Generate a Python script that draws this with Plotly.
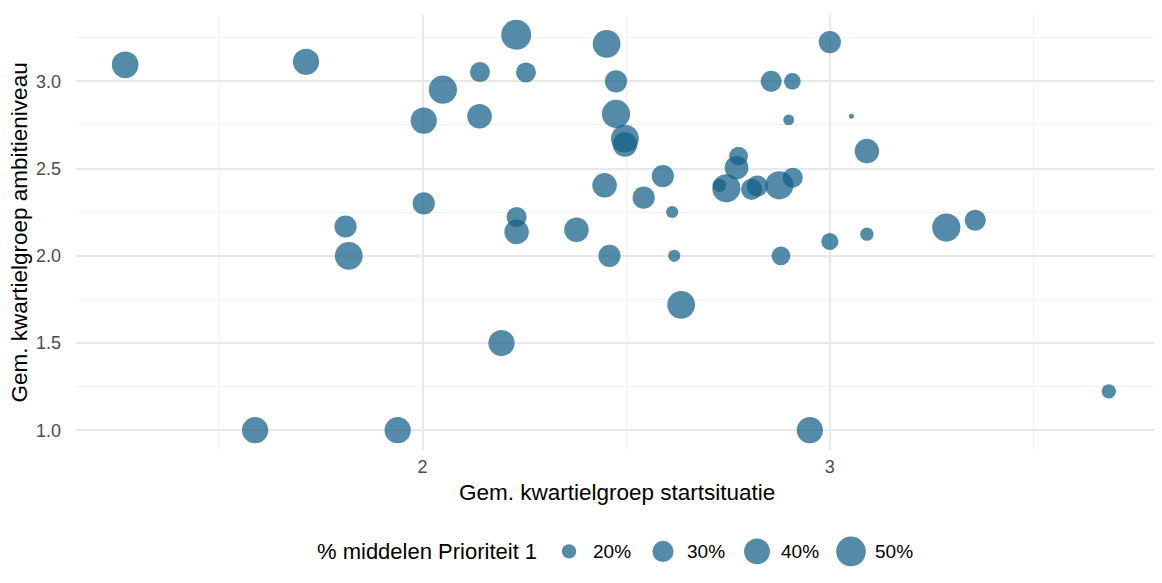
import numpy as np
import plotly.graph_objects as go

# gemiddelde kwartielgroep startsituatie (x), ambitieniveau (y), % middelen prioriteit 1
start = [1.270, 1.714, 2.230, 2.141, 2.254, 2.050, 2.003, 2.140, 2.003, 2.231,
         2.231, 1.811, 1.819, 2.378, 2.452, 2.475, 2.475, 2.497, 2.497, 2.447,
         2.590, 2.543, 2.613, 2.459, 2.618, 2.635, 2.856, 2.908, 3.000, 2.899,
         3.053, 3.091, 2.776, 2.771, 2.746, 2.729, 2.808, 2.822, 2.876, 2.909,
         2.880, 3.000, 3.091, 3.286, 3.357, 1.589, 1.939, 2.194, 2.951, 3.685]
ambitie = [3.095, 3.112, 3.267, 3.053, 3.051, 2.952, 2.775, 2.800, 2.300, 2.223,
           2.137, 2.168, 2.000, 2.149, 3.215, 3.000, 2.813, 2.672, 2.638, 2.404,
           2.457, 2.333, 2.251, 2.000, 2.000, 1.719, 3.000, 3.000, 3.225, 2.779,
           2.800, 2.600, 2.571, 2.505, 2.387, 2.404, 2.381, 2.400, 2.404, 2.448,
           2.000, 2.082, 2.124, 2.162, 2.204, 1.000, 1.000, 1.500, 1.000, 1.223]
prio1 = [42, 41, 51, 28, 28, 46, 41, 37, 32, 28,
         37, 32, 45, 37, 45, 32, 46, 45, 37, 37,
         32, 32, 18, 32, 18, 45, 30, 23, 32, 17,
         15, 37, 26, 35, 46, 19, 30, 30, 46, 28,
         26, 23.5, 19, 46, 30, 41, 41, 41, 41, 20]

legend_vals = [20, 30, 40, 50]
legend_labels = ["20%", "30%", "40%", "50%"]
x_ticks = [2, 3]
x_minor = [1.5, 2.5, 3.5]
y_ticks = [1.0, 1.5, 2.0, 2.5, 3.0]
y_minor = [1.25, 1.75, 2.25, 2.75, 3.25]

FONT = "Liberation Sans"
COL = "rgb(16,94,136)"
vmin, vmax = min(prio1), max(prio1)


# ggplot-achtige size schaal (oppervlak)
def diam(v, dmin=5, dmax=30):
    v = np.clip(np.asarray(v, dtype=float), vmin, vmax)
    return dmin + (dmax - dmin) * np.sqrt((v - vmin) / (vmax - vmin))


def expand(vals, f=0.05):
    lo, hi = min(vals), max(vals)
    d = (hi - lo) * f
    return [lo - d, hi + d]


# pagina heeft 8px body-marge, dus figuur iets kleiner en alles 8px terug
OFF = 8
W, H = 1162 - OFF, 583 - OFF
ML, MR, MT, MB = 76 - OFF, 4, 15 - OFF, 15
panel_bottom = 450 - OFF
ydom0 = (H - MB - panel_bottom) / (H - MT - MB)

fig = go.Figure()
fig.add_trace(go.Scatter(
    x=start, y=ambitie, mode="markers",
    marker=dict(size=diam(prio1), sizemode="diameter", color=COL, opacity=0.72,
                line=dict(width=0)),
    showlegend=False, hoverinfo="x+y+text", text=[f"{p}%" for p in prio1]))

# legenda onderaan (eigen as in paginapixels), sleutels op vaste afstand
key0, key_step = 569, 94
leg_x = [key0 + i * key_step for i in range(len(legend_vals))]
leg_lab_x = [k + 22 for k in leg_x]
fig.add_trace(go.Scatter(
    x=leg_x, y=[0.5] * 4, xaxis="x2", yaxis="y2", mode="markers",
    marker=dict(size=diam(legend_vals), sizemode="diameter", color=COL, opacity=0.72,
                line=dict(width=0)),
    showlegend=False, hoverinfo="skip"))

grid_major = "#e8e8e8"
grid_minor = "#f2f2f2"
tickfont = dict(size=18, color="#4d4d4d", family=FONT)

fig.update_layout(
    width=W, height=H,
    margin=dict(l=ML, r=MR, t=MT, b=MB),
    paper_bgcolor="white", plot_bgcolor="white",
    font=dict(family=FONT, color="#000000"),
    xaxis=dict(range=expand(start), domain=[0, 1], anchor="y",
               tickvals=x_ticks, ticktext=[str(v) for v in x_ticks],
               showgrid=True, gridcolor=grid_major, gridwidth=1.6,
               minor=dict(tickvals=x_minor, showgrid=True, gridcolor=grid_minor, gridwidth=1),
               zeroline=False, showline=False, ticks="", ticklabelstandoff=4,
               tickfont=tickfont),
    yaxis=dict(range=expand(ambitie), domain=[ydom0, 1], anchor="x",
               tickvals=y_ticks, ticktext=[f"{v:.1f}" for v in y_ticks],
               showgrid=True, gridcolor=grid_major, gridwidth=1.6,
               minor=dict(tickvals=y_minor, showgrid=True, gridcolor=grid_minor, gridwidth=1),
               zeroline=False, showline=False, ticks="", ticklabelstandoff=14,
               tickfont=tickfont),
    xaxis2=dict(range=[OFF + ML, OFF + W - MR], domain=[0, 1], anchor="y2", visible=False,
                fixedrange=True),
    yaxis2=dict(range=[0, 1], domain=[0, 0.06], anchor="x2", visible=False,
                fixedrange=True),
    annotations=[
        dict(text="Gem. kwartielgroep startsituatie", xref="x domain", yref="y domain",
             x=0.5, y=0, yshift=-42, xanchor="center", yanchor="middle",
             showarrow=False, font=dict(size=22.5, family=FONT, color="black")),
        dict(text="Gem. kwartielgroep ambitieniveau", xref="x domain", yref="y domain",
             x=0, y=0.5, xshift=-(76 - 19), xanchor="center", yanchor="middle", textangle=-90,
             showarrow=False, font=dict(size=22.5, family=FONT, color="black")),
        dict(text="% middelen Prioriteit 1", xref="x2", yref="y2", x=539, y=0.5,
             xanchor="right", yanchor="middle", showarrow=False,
             font=dict(size=22, family=FONT, color="black")),
    ] + [
        dict(text=lab, xref="x2", yref="y2", x=lx, y=0.5,
             xanchor="left", yanchor="middle", showarrow=False,
             font=dict(size=19, family=FONT, color="black"))
        for lab, lx in zip(legend_labels, leg_lab_x)
    ],
)

fig.write_html("out.html")
